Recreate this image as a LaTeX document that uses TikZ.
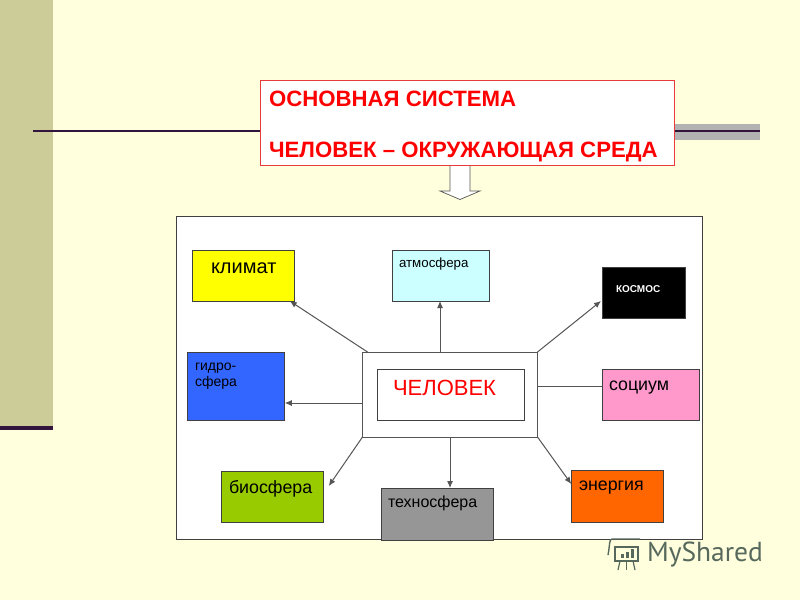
\documentclass[tikz,border=0pt]{standalone}
\usepackage{fontspec}
\setmainfont{Liberation Sans}
\newfontfamily\markfont{PT Sans}
\usepackage{tikz}
\usetikzlibrary{arrows.meta}

\definecolor{paper}{HTML}{FFFFDD}
\definecolor{band}{HTML}{CCCC99}
\definecolor{rule}{HTML}{33143C}
\definecolor{ruleshade}{HTML}{B2B2B2}
\definecolor{edge}{HTML}{555555}
\definecolor{titleedge}{HTML}{E83A3A}
\definecolor{markgreen}{HTML}{56695C}
\definecolor{climyellow}{HTML}{FFFF00}
\definecolor{hydro}{HTML}{3366FF}
\definecolor{airblue}{HTML}{CCFFFF}
\definecolor{socpink}{HTML}{FF99CC}
\definecolor{biogreen}{HTML}{99CC00}
\definecolor{techgray}{HTML}{969696}
\definecolor{energyorange}{HTML}{FF6600}

\tikzset{
  box/.style={draw=#1, line width=0.9pt, inner sep=0pt, outer sep=0pt},
  box/.default=black!75,
  sized/.style 2 args={minimum width=#1pt, minimum height=#2pt},
  lab/.style={anchor=west, inner sep=0pt, outer sep=0pt, text=#1},
  lab/.default=black,
  link/.style={draw=edge, line width=1pt, -{Latex[length=7pt,width=6pt]}},
  plainlink/.style={draw=edge, line width=1pt},
}

\begin{document}
\begin{tikzpicture}[x=1pt, y=-1pt]
       \useasboundingbox (0,0) rectangle (800,600);
       \fill[paper] (0,0) rectangle (800,600);
       \fill[band] (0,0) rectangle (53,430);
       \fill[rule] (0,426) rectangle (53,430);
       \fill[ruleshade] (675,124) rectangle (760,140);
       \coordinate (RL) at (33,130.5);
       \coordinate (RR) at (760,130.5);
       \draw[rule, line width=2pt] (RL) -- (RR);

       \node(T)[box=titleedge, fill=white, sized={414.5}{85.5}] at (467.5,123) {};
       \node(NT1)[lab=red, font=\bfseries\fontsize{22.2}{26}\selectfont] at (269,98.5) {ОСНОВНАЯ СИСТЕМА};
       \node(NT2)[lab=red, font=\bfseries\fontsize{22.2}{26}\selectfont] at (269,151.5) {ЧЕЛОВЕК – ОКРУЖАЮЩАЯ СРЕДА};

       \draw[edge, fill=white, line width=0.7pt] (450,166) -- (450,191) -- (440,191) -- (460,199.5) -- (480,191) -- (470,191) -- (470,166);

       \node(F)[box, fill=white, sized={526.5}{323.5}] at (439.5,378) {};

       \node(K)[box, fill=climyellow, sized={102.5}{51}] at (243.5,275.5) {};
       \node(NK)[lab, font=\fontsize{20}{24}\selectfont] at (211,268) {климат};

       \node(A)[box, fill=airblue, sized={97.5}{51}] at (441,275.5) {};
       \node(NA)[lab, font=\fontsize{13.3}{16}\selectfont] at (399,264) {атмосфера};

       \node(C)[box, fill=black, sized={83}{51}] at (643.5,292.5) {};
       \node(NC)[lab=white, font=\bfseries\fontsize{10}{12}\selectfont] at (616,289.5) {КОСМОС};

       \node(H)[box, fill=hydro, sized={97.5}{68}] at (236,386) {};
       \node(NH1)[lab, font=\fontsize{14}{17}\selectfont] at (195,368) {гидро-};
       \node(NH2)[lab, font=\fontsize{14}{17}\selectfont] at (195,383) {сфера};

       \node(P)[box=edge, fill=white, sized={175}{85}] at (450,394.5) {};
       \node(PI)[box, fill=white, sized={147}{51}] at (450.5,394.5) {};
       \node(NP)[lab=red, font=\fontsize{22}{26}\selectfont] at (393,387.5) {ЧЕЛОВЕК};

       \node(S)[box, fill=socpink, sized={97.5}{51}] at (651,394.5) {};
       \node(NS)[lab, font=\fontsize{17.8}{21}\selectfont] at (609,388) {социум};

       \node(B)[box, fill=biogreen, sized={102.5}{51}] at (272.5,496.5) {};
       \node(NB)[lab, font=\fontsize{17.8}{21}\selectfont] at (229,489) {биосфера};

       \node(G)[box, fill=techgray, sized={112}{52}] at (437,514) {};
       \node(NG)[lab, font=\fontsize{16}{19}\selectfont] at (388,503) {техносфера};

       \node(E)[box, fill=energyorange, sized={92.5}{52}] at (617.5,496) {};
       \node(NE)[lab, font=\fontsize{17.8}{21}\selectfont] at (579,488) {энергия};

       % links out of the middle box
       \draw[link] ([xshift=5pt]P.north west) -- ([xshift=-5pt]K.south east);
       \draw[link] ([xshift=-10pt]P.north) -- ([xshift=-1pt]A.south);
       \draw[link] (P.north east) -- ([xshift=-1pt,yshift=-8.5pt]C.west);
       \draw[plainlink] ([yshift=8.5pt]P.east) -- ([yshift=8.5pt]S.west);
       \draw[link] ([yshift=-8.5pt]P.west) -- ([yshift=-17pt]H.east);
       \draw[link] (P.south west) -- ([xshift=5pt,yshift=-15pt]B.north east);
       \draw[link] (P.south) -- ([xshift=13pt]G.north);
       \draw[link] (P.south east) -- ([yshift=12pt]E.west);

       % watermark
       \draw[markgreen, line width=1.4pt] (615,547) -- (638,547) -- (638,561) -- (615,561) -- cycle;
       \draw[markgreen, line width=1.4pt] (608,555) .. controls (610,545) and (609,539) .. (612,539) -- (640,539);
       \draw[markgreen, line width=1.2pt] (620,561) -- (618,570);
       \draw[markgreen, line width=1.2pt] (626.5,561) -- (626.5,570);
       \draw[markgreen, line width=1.2pt] (633,561) -- (635,570);
       \fill[markgreen] (621,554) rectangle (624,558);
       \fill[markgreen] (626,552) rectangle (629,558);
       \fill[markgreen] (631,549) rectangle (634,558);
       \node(NM)[lab=markgreen, font=\markfont\fontsize{27.5}{32}\selectfont] at (647,555) {MyShared};
      \end{tikzpicture}
\end{document}
